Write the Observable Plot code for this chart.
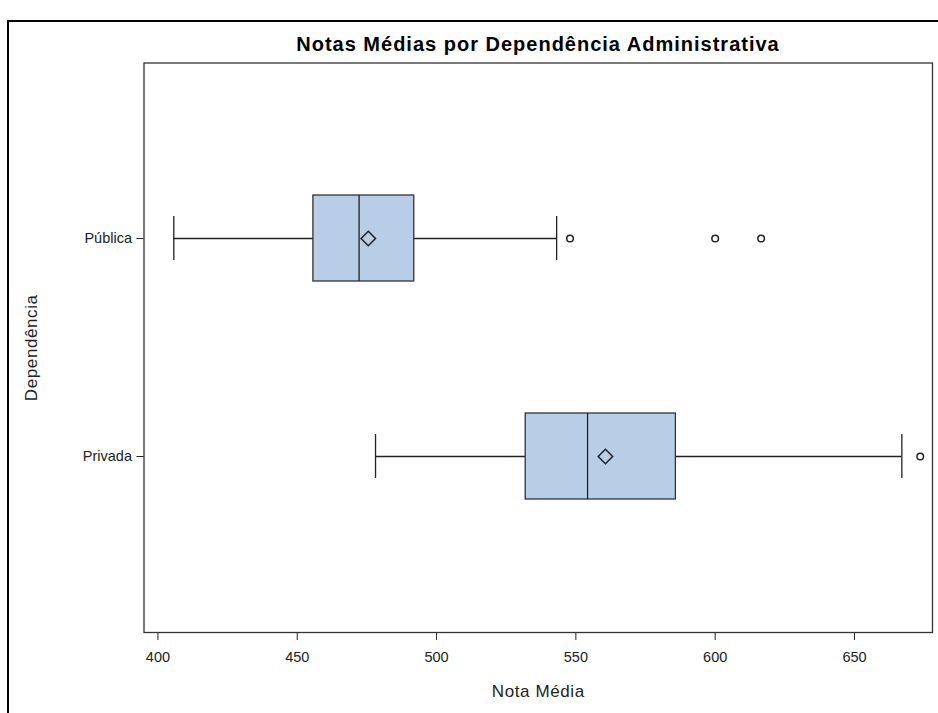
<!DOCTYPE html>
<html>
<head>
<meta charset="utf-8">
<script src="https://cdn.jsdelivr.net/npm/d3@7"></script>
<script src="https://cdn.jsdelivr.net/npm/@observablehq/plot@0.6"></script>
<style>
  html, body { margin: 0; padding: 0; background: #fff; }
  body { width: 938px; height: 713px; position: relative; overflow: hidden; font-family: "Liberation Sans", Arial, sans-serif; }
  #border { position: absolute; left: 7px; top: 20px; width: 1100px; height: 1100px; border: 2px solid #000; box-sizing: border-box; }
  #title { position: absolute; left: 0; width: 1076px; top: 33px; text-align: center; font: bold 20px "Liberation Sans", Arial, sans-serif; letter-spacing: 1px; color: #000; }
  #chart { position: absolute; left: 0; top: 50px; }
  #chart svg g[aria-label="y-axis label"] text, #chart svg g[aria-label="x-axis label"] text { letter-spacing: 0.6px; }
</style>
</head>
<body>
<div id="border"></div>
<div id="title">Notas Médias por Dependência Administrativa</div>
<div id="chart"></div>
<script>
const categories = ["Pública", "Privada"];
const q1 = [455.8, 532.0];
const median = [472.2, 554.2];
const q3 = [492.0, 585.9];
const whiskerLow = [405.7, 478.1];
const whiskerHigh = [543.1, 667.0];
const mean = [475.5, 560.6];
const outlierCategory = ["Pública", "Pública", "Pública", "Privada"];
const outlierValue = [547.9, 600.0, 616.5, 673.6];
const xTicks = [400, 450, 500, 550, 600, 650];

const boxes = categories.map((c, i) => ({
  cat: c, q1: q1[i], med: median[i], q3: q3[i], lo: whiskerLow[i], hi: whiskerHigh[i], mean: mean[i]
}));
const outliers = outlierValue.map((v, i) => ({cat: outlierCategory[i], v}));

const ink = "#222";
const chart = Plot.plot({
  width: 938,
  height: 663,
  marginLeft: 143.5,
  marginRight: 6,
  marginTop: 12.5,
  marginBottom: 81,
  style: {fontFamily: "'Liberation Sans', Arial, sans-serif", fontSize: "14px", color: "#222", background: "transparent"},
  x: {domain: [395, 678]},
  y: {type: "band", domain: categories, padding: 0.606},
  marks: [
    Plot.axisX({ticks: xTicks, tickSize: 8, tickPadding: 11, label: null, fontSize: 14.5}),
    Plot.axisX({ticks: [], label: "Nota Média", labelAnchor: "center", labelOffset: 64, labelArrow: "none", fontSize: 17}),
    Plot.axisY({tickSize: 7, tickPadding: 5, label: null, fontSize: 14.5}),
    Plot.axisY({ticks: [], label: "Dependência", labelAnchor: "center", labelOffset: 119, labelArrow: "none", fontSize: 17}),
    Plot.ruleY(boxes, {y: "cat", x1: "lo", x2: "q1", stroke: ink, strokeWidth: 1.3}),
    Plot.ruleY(boxes, {y: "cat", x1: "q3", x2: "hi", stroke: ink, strokeWidth: 1.3}),
    Plot.tickX(boxes, {y: "cat", x: "lo", stroke: ink, strokeWidth: 1.3, insetTop: 21, insetBottom: 21}),
    Plot.tickX(boxes, {y: "cat", x: "hi", stroke: ink, strokeWidth: 1.3, insetTop: 21, insetBottom: 21}),
    Plot.barX(boxes, {y: "cat", x1: "q1", x2: "q3", fill: "#b8cee6", stroke: "#333", strokeWidth: 1.3}),
    Plot.tickX(boxes, {y: "cat", x: "med", stroke: ink, strokeWidth: 1.3}),
    Plot.dot(boxes, {y: "cat", x: "mean", symbol: "diamond2", r: 6.5, stroke: ink, strokeWidth: 1.5, fill: "none"}),
    Plot.dot(outliers, {y: "cat", x: "v", symbol: "circle", r: 3.3, stroke: ink, strokeWidth: 1.5, fill: "none"}),
    Plot.frame({stroke: "#333", strokeWidth: 1.3})
  ]
});
document.getElementById("chart").appendChild(chart);
</script>
</body>
</html>
